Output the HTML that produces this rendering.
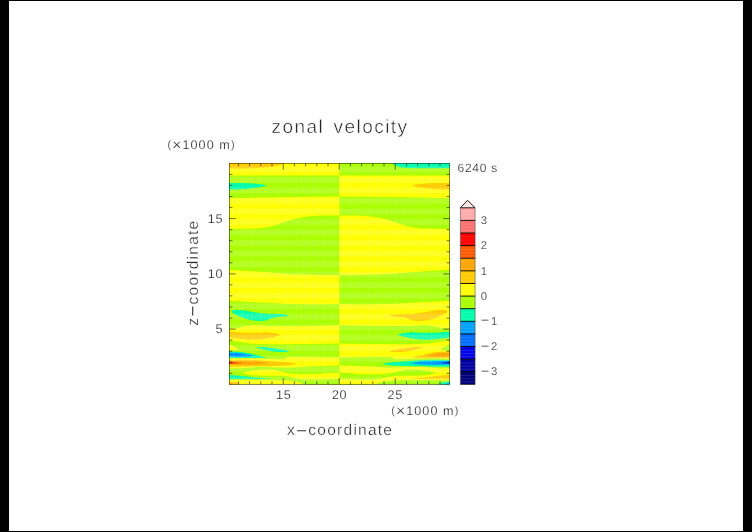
<!DOCTYPE html>
<html><head><meta charset="utf-8"><title>zonal velocity</title>
<style>
html,body{margin:0;padding:0;background:#000;}
body{width:752px;height:532px;overflow:hidden;position:relative;font-family:"Liberation Sans",sans-serif;}
#paper{position:absolute;left:9px;top:1px;width:734px;height:530px;background:#fff;}
svg{position:absolute;left:0;top:0;}
text{font-family:"Liberation Sans",sans-serif;text-rendering:geometricPrecision;fill:#222;stroke:#fff;stroke-width:0.2px;}
</style></head><body>
<div id="paper"></div>
<svg width="752" height="532" viewBox="0 0 752 532">

<g shape-rendering="geometricPrecision">
<polygon fill="#aaff00" points="449.8,163.0 338.4,163.0 338.4,384.4 449.8,384.4"/>
<polygon fill="#ffff00" points="449.8,175.4 338.4,175.5 338.4,196.4 368.8,196.7 388.8,197.1 428.8,197.8 449.8,198.2"/>
<polygon fill="#ffcc00" points="449.8,183.0 441.0,182.9 428.3,183.2 419.8,183.9 415.5,184.6 412.2,185.8 417.2,187.1 424.0,188.1 432.5,188.9 441.0,189.5 449.8,189.6"/>
<polygon fill="#ffff00" points="449.8,229.0 421.8,228.6 413.8,227.6 405.9,225.9 398.8,223.5 390.0,220.6 382.8,218.6 374.0,216.9 366.8,216.0 358.1,215.4 338.4,215.4 338.4,274.9 358.1,274.9 390.0,274.0 421.8,271.5 449.8,269.8"/>
<polygon fill="#ffff00" points="449.8,300.7 421.8,302.3 390.0,303.9 358.1,304.4 338.4,303.9 338.4,325.3 358.8,325.8 389.8,326.0 411.2,326.0 424.0,325.3 432.5,325.8 436.8,327.0 441.0,328.1 449.8,328.5"/>
<polygon fill="#ffcc00" points="447.3,311.3 446.5,310.5 445.0,310.0 440.0,310.0 433.7,310.6 426.5,311.9 419.3,313.0 412.0,313.8 404.8,313.9 397.6,314.2 392.1,314.7 389.4,315.6 393.9,316.6 401.2,316.9 404.8,317.4 408.4,318.7 412.9,320.4 417.4,321.0 422.9,320.8 428.3,319.9 433.7,318.5 439.1,316.5 443.7,314.2 446.8,312.4"/>
<polygon fill="#00ffaa" points="449.8,331.5 436.8,332.8 419.8,332.8 412.9,332.3 402.8,333.2 397.4,335.1 402.8,336.6 411.2,338.3 419.8,339.4 428.3,339.7 436.8,339.1 449.8,337.4"/>
<polygon fill="#ffff00" points="449.8,340.4 436.8,342.3 428.3,343.4 419.8,344.0 411.2,344.2 395.8,344.3 368.8,344.0 338.4,343.4 338.4,357.5 368.8,357.1 391.3,357.1 393.0,358.0 394.8,359.2 405.8,359.0 419.8,358.5 436.8,358.5 449.8,358.9"/>
<polygon fill="#aaff00" points="449.8,344.3 444.8,346.5 439.8,349.4 444.8,350.3 449.8,351.0"/>
<polygon fill="#ffcc00" points="423.4,347.3 416.0,347.1 409.7,347.8 403.3,348.6 396.9,349.6 391.8,350.5 388.9,351.5 393.7,352.1 400.1,352.0 406.5,351.4 412.8,350.2 419.2,348.6"/>
<polygon fill="#ffcc00" points="449.8,351.5 436.8,351.9 428.3,353.4 422.4,355.0 416.0,356.5 411.2,357.6 419.8,357.9 428.3,357.9 436.8,358.1 449.8,357.8"/>
<polygon fill="#ffa500" points="449.8,352.5 441.0,352.8 432.5,354.1 424.8,356.1 436.8,357.0 449.8,356.7"/>
<polygon fill="#00ffaa" points="449.8,360.0 436.8,359.7 422.8,360.1 405.8,361.3 388.8,362.6 381.9,363.8 388.8,365.2 397.3,365.8 414.3,366.2 422.8,366.3 436.8,366.8 449.8,366.8"/>
<polygon fill="#00a0ff" points="449.8,361.0 436.8,360.9 419.8,361.5 409.5,363.2 419.8,364.5 436.8,364.9 449.8,364.5"/>
<polygon fill="#006eff" points="449.8,362.1 442.8,362.3 435.8,363.0 442.8,363.6 449.8,363.8"/>
<polygon fill="#0000e6" points="449.8,362.4 446.8,362.5 440.8,362.9 446.8,363.3 449.8,363.4"/>
<polygon fill="#ffff00" points="449.8,368.3 436.8,368.3 428.3,367.4 419.8,366.8 414.3,367.1 405.8,367.2 397.3,367.5 388.8,367.5 380.2,367.2 371.8,366.6 358.8,366.0 338.4,365.5 338.4,384.4 375.1,384.4 378.5,382.8 384.5,381.5 393.0,380.5 405.8,380.0 419.8,380.0 436.8,380.0 449.8,380.2"/>
<polygon fill="#aaff00" points="338.4,372.8 349.0,373.1 358.8,373.9 371.8,374.3 380.2,374.3 388.8,373.4 397.3,371.7 405.8,369.8 411.2,369.4 419.8,369.7 428.3,370.9 436.3,373.0 428.3,375.1 419.8,375.5 410.0,375.7 397.3,375.7 390.5,376.4 384.5,377.7 378.5,379.0 371.8,379.6 358.8,379.6 338.4,378.8"/>
<polygon fill="#ffcc00" points="449.8,375.1 441.0,375.5 432.5,376.6 424.0,377.4 415.5,377.9 406.8,378.4 419.8,378.9 432.5,378.9 441.0,378.9 449.8,379.0"/>
<polygon fill="#00ffaa" points="449.8,381.6 444.8,382.1 439.3,383.3 438.8,384.4 449.8,384.4"/>
<polygon fill="#00a0ff" points="449.8,383.0 446.3,383.6 445.8,384.4 449.8,384.4"/>
<polygon fill="#ffff00" points="229.0,163.0 339.4,163.0 339.4,384.4 229.0,384.4"/>
<polygon fill="#ffcc00" points="229.0,163.0 229.0,168.5 242.0,168.5 254.8,168.2 263.3,167.5 271.8,166.7 280.3,165.0 284.6,163.0"/>
<polygon fill="#aaff00" points="229.0,175.4 339.4,175.5 339.4,196.4 310.0,196.7 290.0,197.1 250.0,197.8 229.0,198.2"/>
<polygon fill="#00ffaa" points="229.0,183.0 237.8,182.9 250.5,183.2 259.0,183.9 263.3,184.6 266.6,185.8 261.6,187.1 254.8,188.1 246.3,188.9 237.8,189.5 229.0,189.6"/>
<polygon fill="#aaff00" points="229.0,229.0 257.0,228.6 265.0,227.6 272.9,225.9 280.0,223.5 288.8,220.6 296.0,218.6 304.8,216.9 312.0,216.0 320.7,215.4 339.4,215.4 339.4,274.9 320.7,274.9 288.8,274.0 257.0,271.5 229.0,269.8"/>
<polygon fill="#aaff00" points="229.0,300.7 257.0,302.3 288.8,303.9 320.7,304.4 339.4,303.9 339.4,325.3 320.0,325.8 289.0,326.0 267.6,326.0 254.8,325.3 246.3,325.8 242.0,327.0 237.8,328.1 229.0,328.5"/>
<polygon fill="#00ffaa" points="231.5,311.3 232.3,310.5 233.8,310.0 238.8,310.0 245.1,310.6 252.3,311.9 259.5,313.0 266.8,313.8 274.0,313.9 281.2,314.2 286.7,314.7 289.4,315.6 284.9,316.6 277.6,316.9 274.0,317.4 270.4,318.7 265.9,320.4 261.4,321.0 255.9,320.8 250.5,319.9 245.1,318.5 239.7,316.5 235.1,314.2 232.0,312.4"/>
<polygon fill="#ffcc00" points="229.0,331.5 242.0,332.8 259.0,332.8 265.9,332.3 276.0,333.2 281.4,335.1 276.0,336.6 267.6,338.3 259.0,339.4 250.5,339.7 242.0,339.1 229.0,337.4"/>
<polygon fill="#aaff00" points="229.0,340.4 242.0,342.3 250.5,343.4 259.0,344.0 267.6,344.2 283.0,344.3 310.0,344.0 339.4,343.4 339.4,357.5 310.0,357.1 287.5,357.1 285.8,358.0 284.0,359.2 273.0,359.0 259.0,358.5 242.0,358.5 229.0,358.9"/>
<polygon fill="#ffff00" points="229.0,344.3 234.0,346.5 239.0,349.4 234.0,350.3 229.0,351.0"/>
<polygon fill="#00ffaa" points="255.4,347.3 262.8,347.1 269.1,347.8 275.5,348.6 281.9,349.6 287.0,350.5 289.9,351.5 285.1,352.1 278.7,352.0 272.3,351.4 266.0,350.2 259.6,348.6"/>
<polygon fill="#00ffaa" points="229.0,351.5 242.0,351.9 250.5,353.4 256.4,355.0 262.8,356.5 267.6,357.6 259.0,357.9 250.5,357.9 242.0,358.1 229.0,357.8"/>
<polygon fill="#00a0ff" points="229.0,352.5 237.8,352.8 246.3,354.1 254.0,356.1 242.0,357.0 229.0,356.7"/>
<polygon fill="#006eff" points="229.0,354.4 238.0,354.6 245.0,355.1 238.0,355.1 229.0,355.0"/>
<polygon fill="#ffcc00" points="229.0,360.0 242.0,359.7 256.0,360.1 273.0,361.3 290.0,362.6 296.9,363.8 290.0,365.2 281.5,365.8 264.5,366.2 256.0,366.3 242.0,366.8 229.0,366.8"/>
<polygon fill="#ffa500" points="229.0,361.0 242.0,360.9 259.0,361.5 269.3,363.2 259.0,364.5 242.0,364.9 229.0,364.5"/>
<polygon fill="#ff5a00" points="229.0,362.1 236.0,362.3 243.0,363.0 236.0,363.6 229.0,363.8"/>
<polygon fill="#ff0000" points="229.0,362.4 232.0,362.5 238.0,362.9 232.0,363.3 229.0,363.4"/>
<polygon fill="#aaff00" points="229.0,368.3 242.0,368.3 250.5,367.4 259.0,366.8 264.5,367.1 273.0,367.2 281.5,367.5 290.0,367.5 298.6,367.2 307.0,366.6 320.0,366.0 339.4,365.5 339.4,384.4 303.7,384.4 300.3,382.8 294.3,381.5 285.8,380.5 273.0,380.0 259.0,380.0 242.0,380.0 229.0,380.2"/>
<polygon fill="#ffff00" points="339.4,372.8 329.8,373.1 320.0,373.9 307.0,374.3 298.6,374.3 290.0,373.4 281.5,371.7 273.0,369.8 267.6,369.4 259.0,369.7 250.5,370.9 242.5,373.0 250.5,375.1 259.0,375.5 268.8,375.7 281.5,375.7 288.3,376.4 294.3,377.7 300.3,379.0 307.0,379.6 320.0,379.6 339.4,378.8"/>
<polygon fill="#00ffaa" points="229.0,375.1 237.8,375.5 246.3,376.6 254.8,377.4 263.3,377.9 272.0,378.4 259.0,378.9 246.3,378.9 237.8,378.9 229.0,379.0"/>
<polygon fill="#ffcc00" points="229.0,381.6 234.0,382.1 239.5,383.3 240.0,384.4 229.0,384.4"/>
<polygon fill="#ffa500" points="229.0,383.0 232.5,383.6 233.0,384.4 229.0,384.4"/>
<polygon fill="#00ffaa" points="449.8,163.0 449.8,168.3 415.0,168.2 406.8,168.0 400.5,167.4 396.5,166.0 394.0,164.7 392.4,163.0"/>
</g>
<g fill="#fff" fill-opacity="0.14">
<rect x="229.0" y="166.6" width="220.8" height="5.7"/>
<rect x="229.0" y="177.1" width="220.8" height="5.7"/>
<rect x="229.0" y="187.6" width="220.8" height="5.7"/>
<rect x="229.0" y="198.1" width="220.8" height="5.7"/>
<rect x="229.0" y="208.6" width="220.8" height="5.7"/>
<rect x="229.0" y="219.2" width="220.8" height="5.7"/>
<rect x="229.0" y="229.7" width="220.8" height="5.7"/>
<rect x="229.0" y="240.2" width="220.8" height="5.7"/>
<rect x="229.0" y="250.7" width="220.8" height="5.7"/>
<rect x="229.0" y="261.2" width="220.8" height="5.7"/>
<rect x="229.0" y="271.8" width="220.8" height="5.7"/>
<rect x="229.0" y="282.3" width="220.8" height="5.7"/>
<rect x="229.0" y="292.8" width="220.8" height="5.7"/>
<rect x="229.0" y="303.3" width="220.8" height="5.7"/>
<rect x="229.0" y="313.8" width="220.8" height="5.7"/>
<rect x="229.0" y="324.4" width="220.8" height="5.7"/>
<rect x="229.0" y="334.9" width="220.8" height="5.7"/>
<rect x="229.0" y="345.4" width="220.8" height="5.7"/>
<rect x="229.0" y="355.9" width="220.8" height="5.7"/>
<rect x="229.0" y="366.4" width="220.8" height="5.7"/>
<rect x="229.0" y="377.0" width="220.8" height="5.7"/>
</g><g fill="#fff" fill-opacity="0.10">
<rect x="233.1" y="163.0" width="1.1" height="221.4"/>
<rect x="242.1" y="163.0" width="1.1" height="221.4"/>
<rect x="251.1" y="163.0" width="1.1" height="221.4"/>
<rect x="260.1" y="163.0" width="1.1" height="221.4"/>
<rect x="269.1" y="163.0" width="1.1" height="221.4"/>
<rect x="278.1" y="163.0" width="1.1" height="221.4"/>
<rect x="287.1" y="163.0" width="1.1" height="221.4"/>
<rect x="296.1" y="163.0" width="1.1" height="221.4"/>
<rect x="305.1" y="163.0" width="1.1" height="221.4"/>
<rect x="314.1" y="163.0" width="1.1" height="221.4"/>
<rect x="323.1" y="163.0" width="1.1" height="221.4"/>
<rect x="332.1" y="163.0" width="1.1" height="221.4"/>
<rect x="341.1" y="163.0" width="1.1" height="221.4"/>
<rect x="350.1" y="163.0" width="1.1" height="221.4"/>
<rect x="359.1" y="163.0" width="1.1" height="221.4"/>
<rect x="368.1" y="163.0" width="1.1" height="221.4"/>
<rect x="377.1" y="163.0" width="1.1" height="221.4"/>
<rect x="386.1" y="163.0" width="1.1" height="221.4"/>
<rect x="395.1" y="163.0" width="1.1" height="221.4"/>
<rect x="404.1" y="163.0" width="1.1" height="221.4"/>
<rect x="413.1" y="163.0" width="1.1" height="221.4"/>
<rect x="422.1" y="163.0" width="1.1" height="221.4"/>
<rect x="431.1" y="163.0" width="1.1" height="221.4"/>
<rect x="440.1" y="163.0" width="1.1" height="221.4"/>
<rect x="449.1" y="163.0" width="1.1" height="221.4"/>
</g><g fill="#fff" fill-opacity="0.045">
<rect x="237.6" y="163.0" width="1.0" height="221.4"/>
<rect x="246.6" y="163.0" width="1.0" height="221.4"/>
<rect x="255.6" y="163.0" width="1.0" height="221.4"/>
<rect x="264.6" y="163.0" width="1.0" height="221.4"/>
<rect x="273.6" y="163.0" width="1.0" height="221.4"/>
<rect x="282.6" y="163.0" width="1.0" height="221.4"/>
<rect x="291.6" y="163.0" width="1.0" height="221.4"/>
<rect x="300.6" y="163.0" width="1.0" height="221.4"/>
<rect x="309.6" y="163.0" width="1.0" height="221.4"/>
<rect x="318.6" y="163.0" width="1.0" height="221.4"/>
<rect x="327.6" y="163.0" width="1.0" height="221.4"/>
<rect x="336.6" y="163.0" width="1.0" height="221.4"/>
<rect x="345.6" y="163.0" width="1.0" height="221.4"/>
<rect x="354.6" y="163.0" width="1.0" height="221.4"/>
<rect x="363.6" y="163.0" width="1.0" height="221.4"/>
<rect x="372.6" y="163.0" width="1.0" height="221.4"/>
<rect x="381.6" y="163.0" width="1.0" height="221.4"/>
<rect x="390.6" y="163.0" width="1.0" height="221.4"/>
<rect x="399.6" y="163.0" width="1.0" height="221.4"/>
<rect x="408.6" y="163.0" width="1.0" height="221.4"/>
<rect x="417.6" y="163.0" width="1.0" height="221.4"/>
<rect x="426.6" y="163.0" width="1.0" height="221.4"/>
<rect x="435.6" y="163.0" width="1.0" height="221.4"/>
<rect x="444.6" y="163.0" width="1.0" height="221.4"/>
</g>
<g stroke="#000" stroke-width="0.75" stroke-opacity="0.72" fill="none">
<rect x="229.4" y="163.3" width="220.2" height="221.0" stroke-width="0.65"/>
<path d="M238.4 384.3v-3.0M238.4 163.3v3.0"/>
<path d="M249.6 384.3v-3.0M249.6 163.3v3.0"/>
<path d="M260.8 384.3v-3.0M260.8 163.3v3.0"/>
<path d="M272.0 384.3v-3.0M272.0 163.3v3.0"/>
<path d="M283.2 384.3v-6.3M283.2 163.3v6.3"/>
<path d="M294.4 384.3v-3.0M294.4 163.3v3.0"/>
<path d="M305.6 384.3v-3.0M305.6 163.3v3.0"/>
<path d="M316.8 384.3v-3.0M316.8 163.3v3.0"/>
<path d="M328.0 384.3v-3.0M328.0 163.3v3.0"/>
<path d="M339.2 384.3v-6.3M339.2 163.3v6.3"/>
<path d="M350.4 384.3v-3.0M350.4 163.3v3.0"/>
<path d="M361.6 384.3v-3.0M361.6 163.3v3.0"/>
<path d="M372.8 384.3v-3.0M372.8 163.3v3.0"/>
<path d="M384.0 384.3v-3.0M384.0 163.3v3.0"/>
<path d="M395.2 384.3v-6.3M395.2 163.3v6.3"/>
<path d="M406.4 384.3v-3.0M406.4 163.3v3.0"/>
<path d="M417.6 384.3v-3.0M417.6 163.3v3.0"/>
<path d="M428.8 384.3v-3.0M428.8 163.3v3.0"/>
<path d="M440.0 384.3v-3.0M440.0 163.3v3.0"/>
<path d="M229.4 174.4h3.0M449.6 174.4h-3.0"/>
<path d="M229.4 185.4h3.0M449.6 185.4h-3.0"/>
<path d="M229.4 196.5h3.0M449.6 196.5h-3.0"/>
<path d="M229.4 207.5h3.0M449.6 207.5h-3.0"/>
<path d="M229.4 218.6h6.3M449.6 218.6h-6.3"/>
<path d="M229.4 229.7h3.0M449.6 229.7h-3.0"/>
<path d="M229.4 240.7h3.0M449.6 240.7h-3.0"/>
<path d="M229.4 251.8h3.0M449.6 251.8h-3.0"/>
<path d="M229.4 262.8h3.0M449.6 262.8h-3.0"/>
<path d="M229.4 273.9h6.3M449.6 273.9h-6.3"/>
<path d="M229.4 284.9h3.0M449.6 284.9h-3.0"/>
<path d="M229.4 295.9h3.0M449.6 295.9h-3.0"/>
<path d="M229.4 307.0h3.0M449.6 307.0h-3.0"/>
<path d="M229.4 318.1h3.0M449.6 318.1h-3.0"/>
<path d="M229.4 329.1h6.3M449.6 329.1h-6.3"/>
<path d="M229.4 340.1h3.0M449.6 340.1h-3.0"/>
<path d="M229.4 351.2h3.0M449.6 351.2h-3.0"/>
<path d="M229.4 362.2h3.0M449.6 362.2h-3.0"/>
<path d="M229.4 373.3h3.0M449.6 373.3h-3.0"/>
</g>
<g>
<rect x="460.4" y="207.80" width="14.7" height="12.66" fill="#ffaaaa"/>
<rect x="460.4" y="220.41" width="14.7" height="12.66" fill="#ff7070"/>
<rect x="460.4" y="233.03" width="14.7" height="12.66" fill="#ff0000"/>
<rect x="460.4" y="245.64" width="14.7" height="12.66" fill="#ff5a00"/>
<rect x="460.4" y="258.26" width="14.7" height="12.66" fill="#ffa500"/>
<rect x="460.4" y="270.87" width="14.7" height="12.66" fill="#ffcc00"/>
<rect x="460.4" y="283.48" width="14.7" height="12.66" fill="#ffff00"/>
<rect x="460.4" y="296.10" width="14.7" height="12.66" fill="#aaff00"/>
<rect x="460.4" y="308.71" width="14.7" height="12.66" fill="#00ffaa"/>
<rect x="460.4" y="321.33" width="14.7" height="12.66" fill="#00a0ff"/>
<rect x="460.4" y="333.94" width="14.7" height="12.66" fill="#006eff"/>
<rect x="460.4" y="346.55" width="14.7" height="12.66" fill="#0000e6"/>
<rect x="460.4" y="359.17" width="14.7" height="12.66" fill="#0000a0"/>
<rect x="460.4" y="371.78" width="14.7" height="12.66" fill="#000078"/>
<path d="M461.2 211.58H474.3" stroke="#fff" stroke-opacity="0.22" stroke-width="0.6"/>
<path d="M461.2 214.74H474.3" stroke="#fff" stroke-opacity="0.22" stroke-width="0.6"/>
<path d="M461.2 217.89H474.3" stroke="#fff" stroke-opacity="0.22" stroke-width="0.6"/>
<path d="M461.2 224.20H474.3" stroke="#fff" stroke-opacity="0.22" stroke-width="0.6"/>
<path d="M461.2 227.35H474.3" stroke="#fff" stroke-opacity="0.22" stroke-width="0.6"/>
<path d="M461.2 230.51H474.3" stroke="#fff" stroke-opacity="0.22" stroke-width="0.6"/>
<path d="M461.2 236.81H474.3" stroke="#fff" stroke-opacity="0.22" stroke-width="0.6"/>
<path d="M461.2 239.97H474.3" stroke="#fff" stroke-opacity="0.22" stroke-width="0.6"/>
<path d="M461.2 243.12H474.3" stroke="#fff" stroke-opacity="0.22" stroke-width="0.6"/>
<path d="M461.2 249.43H474.3" stroke="#fff" stroke-opacity="0.22" stroke-width="0.6"/>
<path d="M461.2 252.58H474.3" stroke="#fff" stroke-opacity="0.22" stroke-width="0.6"/>
<path d="M461.2 255.73H474.3" stroke="#fff" stroke-opacity="0.22" stroke-width="0.6"/>
<path d="M461.2 262.04H474.3" stroke="#fff" stroke-opacity="0.22" stroke-width="0.6"/>
<path d="M461.2 265.19H474.3" stroke="#fff" stroke-opacity="0.22" stroke-width="0.6"/>
<path d="M461.2 268.35H474.3" stroke="#fff" stroke-opacity="0.22" stroke-width="0.6"/>
<path d="M461.2 274.65H474.3" stroke="#fff" stroke-opacity="0.22" stroke-width="0.6"/>
<path d="M461.2 277.81H474.3" stroke="#fff" stroke-opacity="0.22" stroke-width="0.6"/>
<path d="M461.2 280.96H474.3" stroke="#fff" stroke-opacity="0.22" stroke-width="0.6"/>
<path d="M461.2 287.27H474.3" stroke="#fff" stroke-opacity="0.22" stroke-width="0.6"/>
<path d="M461.2 290.42H474.3" stroke="#fff" stroke-opacity="0.22" stroke-width="0.6"/>
<path d="M461.2 293.58H474.3" stroke="#fff" stroke-opacity="0.22" stroke-width="0.6"/>
<path d="M461.2 299.88H474.3" stroke="#fff" stroke-opacity="0.22" stroke-width="0.6"/>
<path d="M461.2 303.04H474.3" stroke="#fff" stroke-opacity="0.22" stroke-width="0.6"/>
<path d="M461.2 306.19H474.3" stroke="#fff" stroke-opacity="0.22" stroke-width="0.6"/>
<path d="M461.2 312.50H474.3" stroke="#fff" stroke-opacity="0.22" stroke-width="0.6"/>
<path d="M461.2 315.65H474.3" stroke="#fff" stroke-opacity="0.22" stroke-width="0.6"/>
<path d="M461.2 318.80H474.3" stroke="#fff" stroke-opacity="0.22" stroke-width="0.6"/>
<path d="M461.2 325.11H474.3" stroke="#fff" stroke-opacity="0.22" stroke-width="0.6"/>
<path d="M461.2 328.26H474.3" stroke="#fff" stroke-opacity="0.22" stroke-width="0.6"/>
<path d="M461.2 331.42H474.3" stroke="#fff" stroke-opacity="0.22" stroke-width="0.6"/>
<path d="M461.2 337.72H474.3" stroke="#fff" stroke-opacity="0.22" stroke-width="0.6"/>
<path d="M461.2 340.88H474.3" stroke="#fff" stroke-opacity="0.22" stroke-width="0.6"/>
<path d="M461.2 344.03H474.3" stroke="#fff" stroke-opacity="0.22" stroke-width="0.6"/>
<path d="M461.2 350.34H474.3" stroke="#fff" stroke-opacity="0.22" stroke-width="0.6"/>
<path d="M461.2 353.49H474.3" stroke="#fff" stroke-opacity="0.22" stroke-width="0.6"/>
<path d="M461.2 356.65H474.3" stroke="#fff" stroke-opacity="0.22" stroke-width="0.6"/>
<path d="M461.2 362.95H474.3" stroke="#fff" stroke-opacity="0.22" stroke-width="0.6"/>
<path d="M461.2 366.11H474.3" stroke="#fff" stroke-opacity="0.22" stroke-width="0.6"/>
<path d="M461.2 369.26H474.3" stroke="#fff" stroke-opacity="0.22" stroke-width="0.6"/>
<path d="M461.2 375.57H474.3" stroke="#fff" stroke-opacity="0.22" stroke-width="0.6"/>
<path d="M461.2 378.72H474.3" stroke="#fff" stroke-opacity="0.22" stroke-width="0.6"/>
<path d="M461.2 381.87H474.3" stroke="#fff" stroke-opacity="0.22" stroke-width="0.6"/>
<path d="M460.4 207.8L467.5 200.3L475.1 207.8Z" fill="#ffe6e6" stroke="#000" stroke-width="0.9"/>
<path d="M460.1 220.41H475.4" stroke="#000" stroke-width="0.9"/>
<path d="M460.1 233.03H475.4" stroke="#000" stroke-width="0.9"/>
<path d="M460.1 245.64H475.4" stroke="#000" stroke-width="0.9"/>
<path d="M460.1 258.26H475.4" stroke="#000" stroke-width="0.9"/>
<path d="M460.1 270.87H475.4" stroke="#000" stroke-width="0.9"/>
<path d="M460.1 283.48H475.4" stroke="#000" stroke-width="0.9"/>
<path d="M460.1 296.10H475.4" stroke="#000" stroke-width="0.9"/>
<path d="M460.1 308.71H475.4" stroke="#000" stroke-width="0.9"/>
<path d="M460.1 321.33H475.4" stroke="#000" stroke-width="0.9"/>
<path d="M460.1 333.94H475.4" stroke="#000" stroke-width="0.9"/>
<path d="M460.1 346.55H475.4" stroke="#000" stroke-width="0.9"/>
<path d="M460.1 359.17H475.4" stroke="#000" stroke-width="0.9"/>
<path d="M460.1 371.78H475.4" stroke="#000" stroke-width="0.9"/>
<path d="M460.4 207.8V384.4M475.1 207.8V384.4" stroke="#555" stroke-width="0.6" fill="none"/>
<path d="M460.4 384.4H475.1" stroke="#000" stroke-width="0.6"/>
</g>
<g class="lbl" style="filter:grayscale(1)">
<text x="271.6" y="132.8" font-size="19.0" text-anchor="start" letter-spacing="1.45" word-spacing="2.6" style="stroke-width:0.45px">zonal velocity</text>
<text x="167.6" y="148.9" font-size="12.6" text-anchor="start" letter-spacing="1.08"><tspan font-size="10.8" dy="-1.1">(</tspan><tspan font-size="15.5" dy="2.1">×</tspan><tspan dy="-1.0">1000 m</tspan><tspan font-size="10.8" dy="-1.1">)</tspan></text>
<text x="391.3" y="414.7" font-size="12.6" text-anchor="start" letter-spacing="1.08"><tspan font-size="10.8" dy="-1.1">(</tspan><tspan font-size="15.5" dy="2.1">×</tspan><tspan dy="-1.0">1000 m</tspan><tspan font-size="10.8" dy="-1.1">)</tspan></text>
<text x="457.5" y="171.8" font-size="12.0" text-anchor="start" letter-spacing="0.75" fill="#959595">6240 s</text>
<text x="287.0" y="435.3" font-size="15.5" text-anchor="start" letter-spacing="1.25" style="stroke-width:0.3px">x<tspan font-size="19" dy="1.5">−</tspan><tspan dy="-1.5">coordinate</tspan></text>
<text transform="translate(197.7,325.8) rotate(-90)" font-size="15.5" letter-spacing="1.25" style="stroke-width:0.3px">z<tspan font-size="19" dy="1.5">−</tspan><tspan dy="-1.5">coordinate</tspan></text>
<text x="283.7" y="398.9" font-size="12.6" text-anchor="middle" letter-spacing="0.60">15</text>
<text x="339.5" y="398.9" font-size="12.6" text-anchor="middle" letter-spacing="0.60">20</text>
<text x="395.2" y="398.9" font-size="12.6" text-anchor="middle" letter-spacing="0.60">25</text>
<text x="223.0" y="222.8" font-size="12.6" text-anchor="end" letter-spacing="0.60">15</text>
<text x="223.0" y="278.1" font-size="12.6" text-anchor="end" letter-spacing="0.60">10</text>
<text x="223.0" y="333.3" font-size="12.6" text-anchor="end" letter-spacing="0.60">5</text>
<text x="480.8" y="224.0" font-size="11.3" text-anchor="start" letter-spacing="0.60">3</text>
<text x="480.8" y="249.2" font-size="11.3" text-anchor="start" letter-spacing="0.60">2</text>
<text x="480.8" y="274.5" font-size="11.3" text-anchor="start" letter-spacing="0.60">1</text>
<text x="480.8" y="299.7" font-size="11.3" text-anchor="start" letter-spacing="0.60">0</text>
<text x="480.8" y="324.9" font-size="11.3" text-anchor="start" letter-spacing="0.60"><tspan font-size="14.5" dy="0.4">−</tspan><tspan dx="1.2" dy="-0.4">1</tspan></text>
<text x="480.8" y="350.2" font-size="11.3" text-anchor="start" letter-spacing="0.60"><tspan font-size="14.5" dy="0.4">−</tspan><tspan dx="1.2" dy="-0.4">2</tspan></text>
<text x="480.8" y="375.4" font-size="11.3" text-anchor="start" letter-spacing="0.60"><tspan font-size="14.5" dy="0.4">−</tspan><tspan dx="1.2" dy="-0.4">3</tspan></text>
</g>
</svg></body></html>
